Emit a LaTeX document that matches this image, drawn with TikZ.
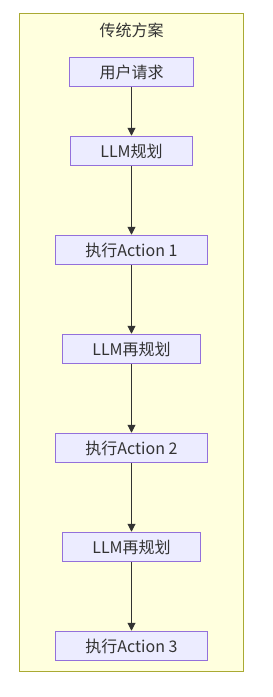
\documentclass[tikz,border=0pt]{standalone}
\usepackage{fontspec}
\setmainfont{Noto Sans CJK SC}
\usepackage{xcolor}
\usepackage{tikz}
\usetikzlibrary{arrows.meta, positioning}

\definecolor{boxfill}{HTML}{ECECFF}
\definecolor{boxline}{HTML}{9370DB}
\definecolor{groupfill}{HTML}{FFFFDE}
\definecolor{groupline}{HTML}{AAAA33}
\definecolor{inkgray}{HTML}{333333}

\begin{document}
\begin{tikzpicture}[
    x=1pt, y=1pt,
    node distance=68.5pt,
    every node/.style={font=\fontsize{16}{19}\selectfont, text=inkgray},
    stepbox/.style={rectangle, draw=boxline, fill=boxfill, line width=1pt, minimum height=29.5pt, inner xsep=30pt, inner ysep=0pt, align=center},
    group/.style={draw=groupline, fill=groupfill, line width=1pt},
    arrow/.style={-{Triangle[length=8pt, width=8pt]}, draw=inkgray, line width=1pt}
]
    \useasboundingbox (0,0) rectangle (273,-697);
    \draw[group] (19.5,-13.5) rectangle (243.5,-671);
    \node (title) at (131.5,-30) {传统方案};

    \node[stepbox] (query) at (131.5,-72) {用户请求};
    \node[stepbox, below=48.5pt of query] (plan) {LLM规划};
    \node[stepbox, below=of plan] (act1) {执行Action 1};
    \node[stepbox, below=of act1] (replan1) {LLM再规划};
    \node[stepbox, below=of replan1] (act2) {执行Action 2};
    \node[stepbox, below=of act2] (replan2) {LLM再规划};
    \node[stepbox, below=of replan2] (act3) {执行Action 3};

    \draw[arrow] (query) -- (plan);
    \draw[arrow] (plan) -- (act1);
    \draw[arrow] (act1) -- (replan1);
    \draw[arrow] (replan1) -- (act2);
    \draw[arrow] (act2) -- (replan2);
    \draw[arrow] (replan2) -- (act3);
\end{tikzpicture}
\end{document}
